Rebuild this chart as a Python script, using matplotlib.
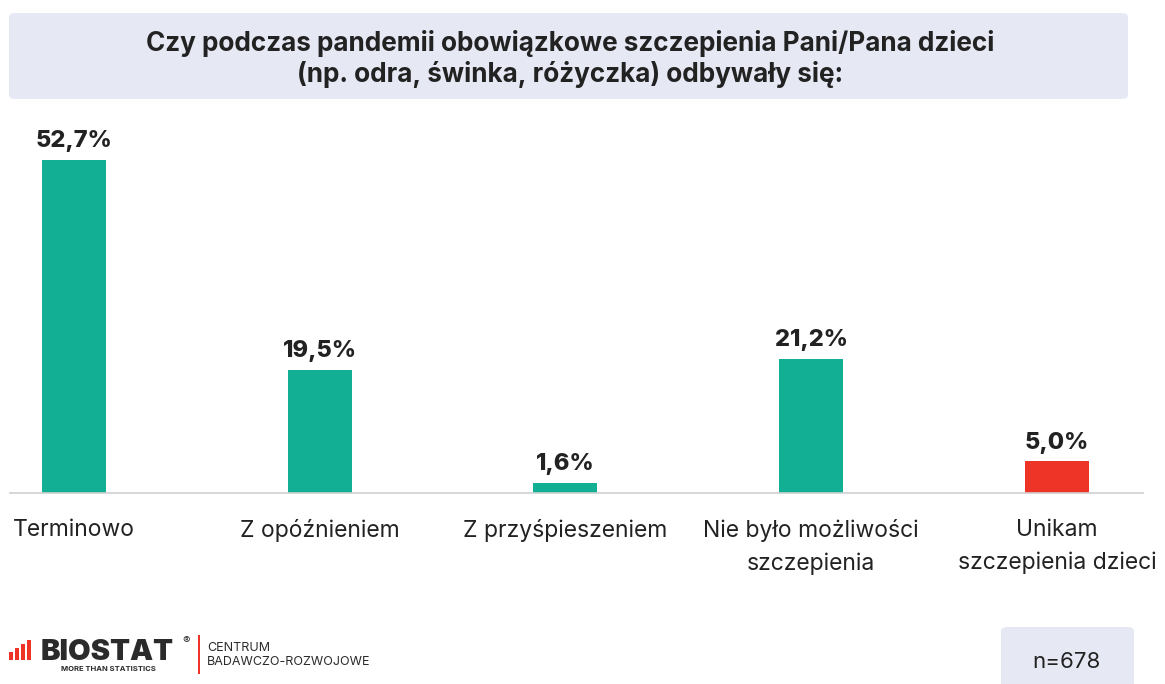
import matplotlib
matplotlib.use("Agg")
import matplotlib.pyplot as plt
from matplotlib.patches import FancyBboxPatch, Rectangle

categories = ["Terminowo", "Z opóźnieniem", "Z przyśpieszeniem",
              "Nie było możliwości\nszczepienia", "Unikam\nszczepienia dzieci"]
values = [52.7, 19.5, 1.6, 21.2, 5.0]
value_labels = ["52,7%", "19,5%", "1,6%", "21,2%", "5,0%"]
title = ("Czy podczas pandemii obowiązkowe szczepienia Pani/Pana dzieci\n"
         "(np. odra, świnka, różyczka) odbywały się:")
sample = "n=678"

TEAL = "#12AF95"
RED = "#EE3426"
LAVENDER = "#E6E8F4"
TEXT = "#222222"
W, H = 1165, 684


def fx(px):
    return px / W


def fy(py):
    return 1 - py / H


def main():
    plt.rcParams["font.family"] = ["Inter", "DejaVu Sans"]
    fig = plt.figure(figsize=(W / 100, H / 100), dpi=100)
    fig.patch.set_facecolor("white")

    # title box
    box = FancyBboxPatch((fx(9), fy(99)), fx(1119), 86 / H,
                         boxstyle="round,pad=0,rounding_size=0.006",
                         transform=fig.transFigure, facecolor=LAVENDER,
                         edgecolor="none")
    fig.patches.append(box)
    fig.text(fx(570), fy(59), title, ha="center", va="center", fontsize=18.8,
             fontweight="bold", color=TEXT, linespacing=1.22)

    # bars
    ax = fig.add_axes([fx(10), fy(493), fx(1133), 373 / H])
    x = list(range(len(values)))
    colors = [TEAL] * (len(values) - 1) + [RED]
    bars = ax.bar(x, values, width=0.26, color=colors)
    ax.set_xlim(-0.26, 4.35)
    ax.set_ylim(0, 59)
    for b, lab in zip(bars, value_labels):
        ax.annotate(lab, (b.get_x() + b.get_width() / 2, b.get_height()),
                    xytext=(0, 5.5), textcoords="offset points", ha="center",
                    va="bottom", fontsize=17, fontweight="heavy", color=TEXT)
    ax.set_xticks(x)
    ax.set_xticklabels(categories, fontsize=16.5, color=TEXT, linespacing=1.55)
    ax.tick_params(axis="x", length=0, pad=19)
    ax.set_yticks([])
    for s in ["top", "right", "left"]:
        ax.spines[s].set_visible(False)
    ax.spines["bottom"].set_color("#D0D0D0")
    ax.spines["bottom"].set_linewidth(1.2)

    # footer logo
    for bx, by, bh in [(9, 652, 8), (15, 648, 12), (21, 644, 16), (27, 640, 20)]:
        fig.patches.append(Rectangle((fx(bx), fy(by + bh)), fx(3.5), bh / H,
                                     transform=fig.transFigure,
                                     facecolor=RED, edgecolor="none"))
    fig.text(fx(41), fy(652), "BIOSTAT", ha="left", va="center", fontsize=21,
             fontweight="black", color="#2B2B2B")
    fig.text(fx(186), fy(641), "®", ha="center", va="center", fontsize=8,
             color="#2B2B2B")
    fig.text(fx(108), fy(669), "MORE THAN STATISTICS", ha="center",
             va="center", fontsize=5.5, fontweight="bold", color="#2B2B2B")
    fig.patches.append(Rectangle((fx(198), fy(674)), fx(2), 39 / H,
                                 transform=fig.transFigure, facecolor=RED,
                                 edgecolor="none"))
    fig.text(fx(207), fy(655), "CENTRUM\nBADAWCZO-ROZWOJOWE", ha="left",
             va="center", fontsize=9, color="#2B2B2B", linespacing=1.15)

    # sample size box
    nbox = FancyBboxPatch((fx(1001), fy(690)), fx(133), 63 / H,
                          boxstyle="round,pad=0,rounding_size=0.006",
                          transform=fig.transFigure, facecolor=LAVENDER,
                          edgecolor="none")
    fig.patches.append(nbox)
    fig.text(fx(1066), fy(662), sample, ha="center", va="center", fontsize=16,
             color=TEXT)

    fig.savefig("out.png", dpi=100)


if __name__ == "__main__":
    main()
